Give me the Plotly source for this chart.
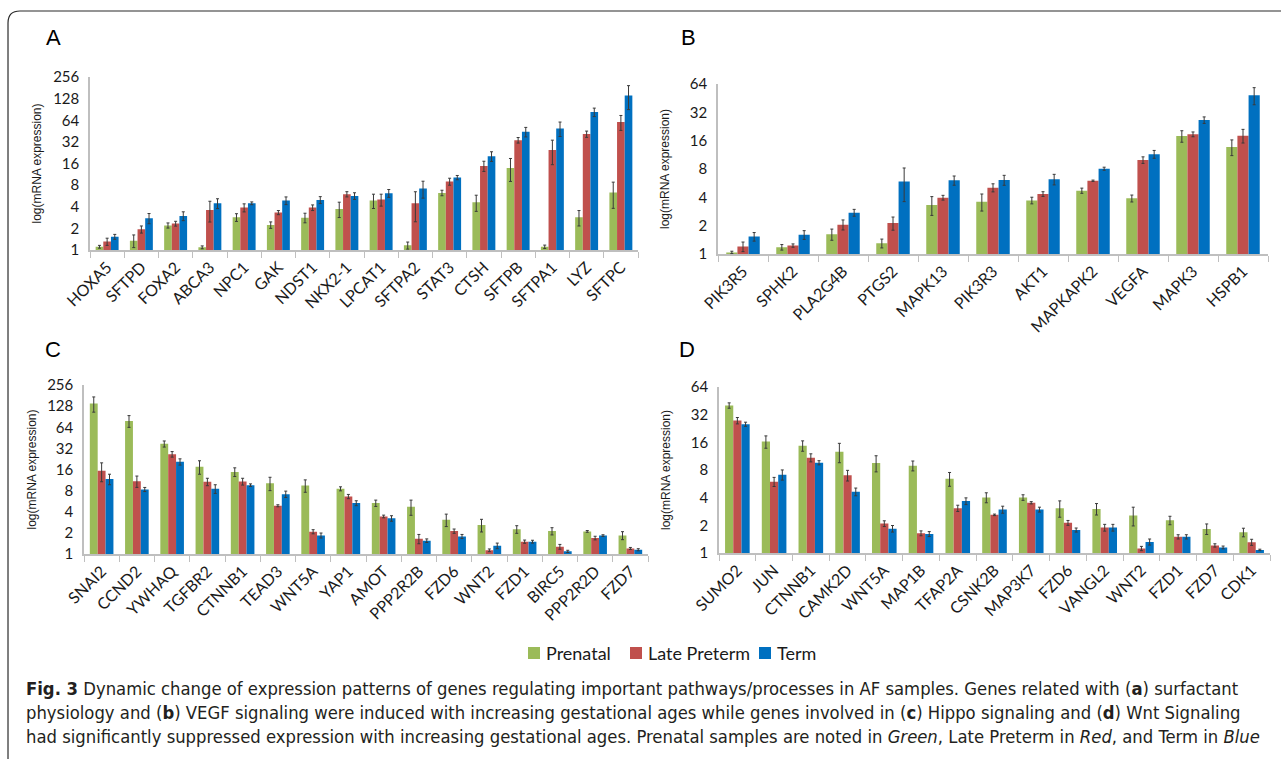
import math
import plotly.graph_objects as go

# ---------------- data ----------------
series_names = ["Prenatal", "Late Preterm", "Term"]
series_colors = ["#9BBB59", "#C0504D", "#0070C0"]

genes_a = ["HOXA5", "SFTPD", "FOXA2", "ABCA3", "NPC1", "GAK", "NDST1", "NKX2-1",
           "LPCAT1", "SFTPA2", "STAT3", "CTSH", "SFTPB", "SFTPA1", "LYZ", "SFTPC"]
prenatal_a = [1.11, 1.35, 2.2, 1.09, 2.85, 2.23, 2.82, 3.73, 4.88, 1.16, 6.24, 4.62, 13.9, 1.11, 2.85, 6.3]
late_a = [1.31, 1.94, 2.33, 3.61, 3.89, 3.32, 3.89, 5.98, 5.03, 4.47, 8.98, 14.8, 33.8, 24.6, 41.1, 60.4]
term_a = [1.53, 2.77, 2.98, 4.47, 4.47, 4.88, 4.98, 5.66, 6.18, 7.17, 10.2, 20.2, 44.2, 49.2, 83.2, 142]
prenatal_a_err = [0.05, 0.27, 0.18, 0.05, 0.35, 0.23, 0.43, 0.9, 1.1, 0.13, 0.55, 1.17, 4.9, 0.06, 0.69, 2.5]
late_a_err = [0.15, 0.22, 0.18, 1.16, 0.5, 0.22, 0.35, 0.5, 0.95, 2.0, 1.0, 2.4, 3.0, 9.2, 4.1, 14.2]
term_a_err = [0.12, 0.45, 0.42, 0.7, 0.2, 0.6, 0.55, 0.6, 0.77, 1.9, 0.7, 3.1, 6.7, 11.2, 11.2, 52]

genes_b = ["PIK3R5", "SPHK2", "PLA2G4B", "PTGS2", "MAPK13", "PIK3R3", "AKT1",
           "MAPKAPK2", "VEGFA", "MAPK3", "HSPB1"]
prenatal_b = [1.04, 1.18, 1.62, 1.3, 3.32, 3.6, 3.71, 4.71, 3.9, 17.9, 13.7]
late_b = [1.2, 1.23, 2.05, 2.13, 3.97, 5.07, 4.34, 6.0, 9.97, 18.7, 18.1]
term_b = [1.53, 1.6, 2.75, 5.9, 6.06, 6.11, 6.22, 8.06, 11.5, 26.5, 48.5]
prenatal_b_err = [0.03, 0.08, 0.22, 0.14, 0.75, 0.74, 0.3, 0.3, 0.33, 2.5, 2.6]
late_b_err = [0.14, 0.05, 0.25, 0.34, 0.23, 0.5, 0.25, 0.1, 0.8, 1.1, 3.0]
term_b_err = [0.16, 0.17, 0.23, 2.3, 0.68, 0.74, 0.8, 0.3, 1.1, 2.1, 10]

genes_c = ["SNAI2", "CCND2", "YWHAQ", "TGFBR2", "CTNNB1", "TEAD3", "WNT5A", "YAP1",
           "AMOT", "PPP2R2B", "FZD6", "WNT2", "FZD1", "BIRC5", "PPP2R2D", "FZD7"]
prenatal_c = [139, 78.8, 37.1, 17.5, 14.8, 10.2, 9.48, 8.5, 5.31, 4.71, 3.08, 2.59, 2.25, 2.12, 2.1, 1.84]
late_c = [15.3, 10.9, 26.4, 10.7, 10.8, 4.87, 2.08, 6.6, 3.43, 1.65, 2.12, 1.13, 1.5, 1.27, 1.69, 1.2]
term_c = [11.7, 8.32, 20.6, 8.5, 9.58, 7.13, 1.84, 5.31, 3.22, 1.55, 1.78, 1.31, 1.5, 1.09, 1.83, 1.15]
prenatal_c_err = [34, 15, 3.7, 3.8, 2.1, 2.2, 1.9, 0.56, 0.55, 1.15, 0.62, 0.53, 0.28, 0.25, 0.06, 0.24]
late_c_err = [4.6, 2.0, 2.4, 1.3, 1.2, 0.16, 0.14, 0.46, 0.15, 0.25, 0.15, 0.05, 0.08, 0.1, 0.1, 0.04]
term_c_err = [2.0, 0.56, 2.1, 1.2, 0.4, 0.74, 0.15, 0.43, 0.29, 0.09, 0.12, 0.12, 0.07, 0.04, 0.05, 0.04]

genes_d = ["SUMO2", "JUN", "CTNNB1", "CAMK2D", "WNT5A", "MAP1B", "TFAP2A", "CSNK2B",
           "MAP3K7", "FZD6", "VANGL2", "WNT2", "FZD1", "FZD7", "CDK1"]
prenatal_d = [40.3, 16.3, 14.7, 12.6, 9.53, 8.92, 6.42, 4.02, 4.02, 3.07, 3.02, 2.56, 2.27, 1.83, 1.68]
late_d = [27.6, 5.97, 10.9, 7.0, 2.09, 1.64, 3.07, 2.6, 3.52, 2.13, 1.89, 1.12, 1.5, 1.21, 1.31]
term_d = [25.2, 7.11, 9.6, 4.64, 1.84, 1.61, 3.67, 2.97, 2.97, 1.78, 1.89, 1.32, 1.5, 1.15, 1.08]
prenatal_d_err = [2.7, 2.5, 1.9, 3.0, 1.9, 1.1, 1.1, 0.5, 0.28, 0.62, 0.43, 0.59, 0.24, 0.24, 0.18]
late_d_err = [2.2, 0.68, 1.1, 0.93, 0.15, 0.1, 0.24, 0.05, 0.1, 0.13, 0.16, 0.06, 0.08, 0.05, 0.1]
term_d_err = [1.3, 0.9, 0.5, 0.45, 0.15, 0.1, 0.31, 0.26, 0.18, 0.09, 0.16, 0.1, 0.08, 0.04, 0.02]

ticks_256 = [1, 2, 4, 8, 16, 32, 64, 128, 256]
ticks_64 = [1, 2, 4, 8, 16, 32, 64]

# ---------------- layout helpers ----------------
W, H = 1281, 759


def px_x(x):
    return x / W


def px_y(y):
    return 1 - y / H


panels = [
    # genes, values, errors, x-extent px, y-extent px (bottom, top), ticks
    (genes_a, (prenatal_a, late_a, term_a), (prenatal_a_err, late_a_err, term_a_err),
     (90, 638), (250, 77), ticks_256),
    (genes_b, (prenatal_b, late_b, term_b), (prenatal_b_err, late_b_err, term_b_err),
     (718, 1268), (254, 84), ticks_64),
    (genes_c, (prenatal_c, late_c, term_c), (prenatal_c_err, late_c_err, term_c_err),
     (84, 648), (554, 385), ticks_256),
    (genes_d, (prenatal_d, late_d, term_d), (prenatal_d_err, late_d_err, term_d_err),
     (719, 1270), (553, 387), ticks_64),
]

text_color = "#1a1a1a"
label_font = dict(family="Lato, Open Sans, sans-serif", size=16, color=text_color)
axis_grey = "#BFBFBF"

fig = go.Figure()
annotations = []
shapes = []

for i, (genes, vals, errs, (x0, x1), (yb, yt), ticks) in enumerate(panels):
    n = i + 1
    xa = "x" if n == 1 else f"x{n}"
    ya = "y" if n == 1 else f"y{n}"
    for k in range(3):
        fig.add_trace(go.Bar(
            x=genes, y=vals[k], name=series_names[k],
            marker=dict(color=series_colors[k], line=dict(width=0)),
            error_y=dict(type="data", array=errs[k], color="#3a3a3a", thickness=1, width=1.5),
            xaxis=xa, yaxis=ya, showlegend=False,
        ))
    xkey = "xaxis" if n == 1 else f"xaxis{n}"
    ykey = "yaxis" if n == 1 else f"yaxis{n}"
    fig.layout[xkey] = dict(
        domain=[px_x(x0), px_x(x1)], anchor=ya, type="category", automargin=False,
        showline=True, linecolor=axis_grey, linewidth=1.5,
        ticks="outside", tickson="boundaries", ticklen=6, tickcolor=axis_grey,
        tickangle=-45, tickfont=label_font, showgrid=False, zeroline=False,
    )
    fig.layout[ykey] = dict(
        domain=[px_y(yb), px_y(yt)], anchor=xa, type="log", automargin=False,
        range=[0, math.log10(ticks[-1])],
        tickvals=ticks, ticktext=[str(t) for t in ticks],
        showline=True, linecolor=axis_grey, linewidth=1.5, ticks="",
        ticklabelstandoff=6,
        tickfont=dict(family="Lato, Open Sans, sans-serif", size=15, color=text_color),
        showgrid=False, zeroline=False,
    )
    # y-axis title
    annotations.append(dict(
        text="log(mRNA expression)", textangle=-90,
        x=px_x(x0 - 53), y=px_y((yb + yt) / 2), xref="paper", yref="paper",
        showarrow=False, xanchor="center", yanchor="middle",
        font=dict(family="Liberation Sans, Arial, sans-serif", size=12, color=text_color),
    ))

# panel letters
for letter, lx, ly in [("A", 53, 37), ("B", 688, 37), ("C", 53, 350), ("D", 687, 350)]:
    annotations.append(dict(
        text=letter, x=px_x(lx), y=px_y(ly), xref="paper", yref="paper",
        showarrow=False, xanchor="center", yanchor="middle",
        font=dict(family="Liberation Sans, Arial, sans-serif", size=22, color="#000000"),
    ))

# series key: coloured squares with names
key_items = [(528, 544), (630, 646), (759, 775)]
for (sq_x, tx), name, color in zip(key_items, series_names, series_colors):
    shapes.append(dict(
        type="rect", xref="paper", yref="paper",
        x0=px_x(sq_x), x1=px_x(sq_x + 12), y0=px_y(659), y1=px_y(647),
        fillcolor=color, line=dict(width=0),
    ))
    annotations.append(dict(
        text=name, x=px_x(tx), y=px_y(653), xref="paper", yref="paper",
        showarrow=False, xanchor="left", yanchor="middle",
        font=dict(family="Lato, Open Sans, sans-serif", size=18, color=text_color),
    ))

# figure caption
caption_lines = [
    "<b>Fig. 3</b> Dynamic change of expression patterns of genes regulating important "
    "pathways/processes in AF samples. Genes related with (<b>a</b>) surfactant",
    "physiology and (<b>b</b>) VEGF signaling were induced with increasing gestational ages "
    "while genes involved in (<b>c</b>) Hippo signaling and (<b>d</b>) Wnt Signaling",
    "had significantly suppressed expression with increasing gestational ages. Prenatal "
    "samples are noted in <i>Green</i>, Late Preterm in <i>Red</i>, and Term in <i>Blue</i>",
]
for j, line in enumerate(caption_lines):
    annotations.append(dict(
        text=line, x=px_x(24), y=px_y(688 + 24 * j), xref="paper", yref="paper",
        showarrow=False, xanchor="left", yanchor="middle", align="left",
        font=dict(family="Liberation Sans Narrow, DejaVu Sans Condensed, sans-serif",
                  size=18.3, color="#231f20"),
    ))

# rounded frame around the figure (top and left edges visible)
r = 12
fx0, fy0, fy1 = 8, 11, 800
frame_path = (
    f"M {px_x(W + 20):.5f},{px_y(fy0):.5f} "
    f"L {px_x(fx0 + r):.5f},{px_y(fy0):.5f} "
    f"Q {px_x(fx0):.5f},{px_y(fy0):.5f} {px_x(fx0):.5f},{px_y(fy0 + r):.5f} "
    f"L {px_x(fx0):.5f},{px_y(fy1):.5f}"
)
shapes.append(dict(type="path", xref="paper", yref="paper", path=frame_path,
                   line=dict(color="#2b2b2b", width=1.2)))

fig.update_layout(
    width=W, height=H,
    margin=dict(l=0, r=0, t=0, b=0, autoexpand=False),
    paper_bgcolor="white", plot_bgcolor="white",
    barmode="group", bargap=0.33, bargroupgap=0,
    showlegend=False,
    annotations=annotations,
    shapes=shapes,
)

fig.write_html("out.html")
